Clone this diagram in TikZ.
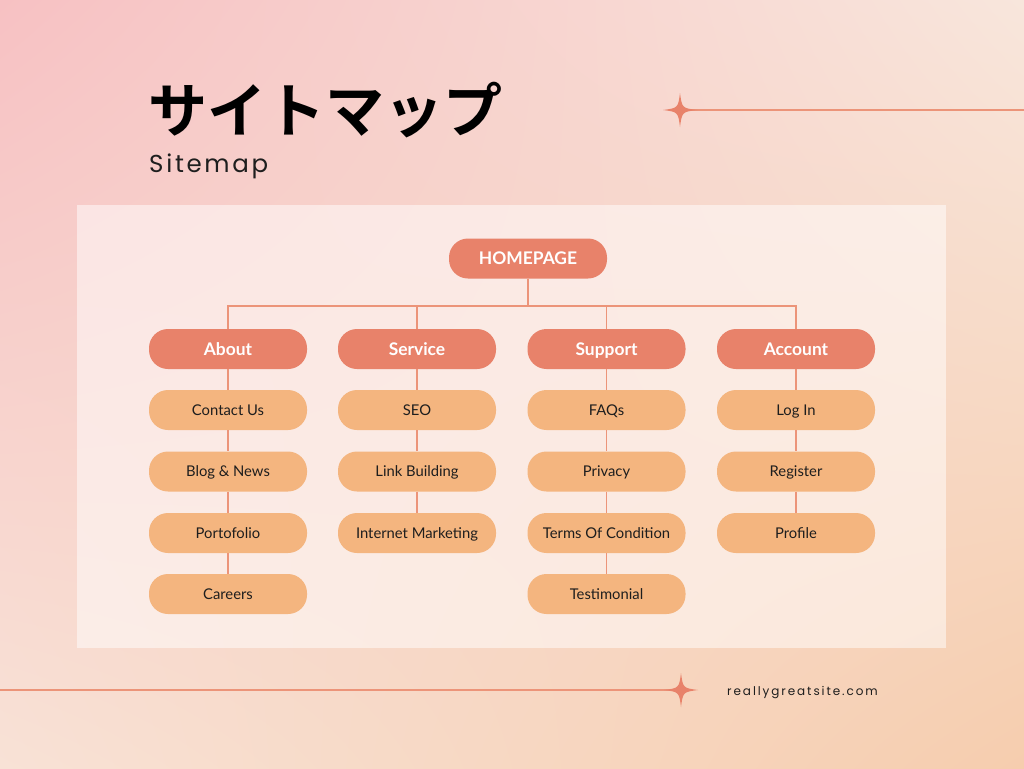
\documentclass[tikz,border=0pt]{standalone}
\usepackage{fontspec}
\usetikzlibrary{shadings}
\setmainfont{Lato}
\newfontfamily\cjk{Noto Sans CJK JP Bold}
\newfontfamily\spacedA[LetterSpace=11]{Poppins}
\newfontfamily\spacedB[LetterSpace=16]{Poppins}
\definecolor{bgTL}{HTML}{F7C1C3}
\definecolor{bgTR}{HTML}{F8E6DC}
\definecolor{bgBL}{HTML}{F8E2D6}
\definecolor{bgBR}{HTML}{F6CDAE}
\definecolor{hdr}{HTML}{E8826A}
\definecolor{kid}{HTML}{F4B57F}
\definecolor{conn}{HTML}{EC9479}
\definecolor{ink}{HTML}{1E1E1E}
\tikzset{
  pill/.style={rounded corners=19pt, minimum width=158pt, minimum height=40pt, inner sep=0pt},
  hdrbox/.style={pill, fill=hdr, text=white, font=\bfseries\fontsize{17.4}{19}\selectfont, text height=13pt, text depth=0.5pt},
  kidbox/.style={pill, fill=kid, text=ink, font=\fontsize{14.8}{16}\selectfont, text height=11pt, text depth=0.4pt},
  link/.style={draw=conn, line width=1.2pt},
  sparkle/.style={fill=hdr}
}
\begin{document}
\begin{tikzpicture}[x=1pt,y=-1pt]
\useasboundingbox (0,0) rectangle (1024,768);
\shade[upper left=bgTL, upper right=bgTR, lower left=bgBL, lower right=bgBR] (0,0) rectangle (1024,768);
\fill[white, opacity=0.5] (77,205) rectangle (946,648);

% title
\node[anchor=west, inner sep=0pt, font=\cjk\fontsize{59}{60}\selectfont, text=black] (title) at (148,110) {サイトマップ};
\node[anchor=base west, inner sep=0pt, font=\spacedA\fontsize{24.5}{26}\selectfont, text=ink] (sub) at (149,172) {Sitemap};

% decorative lines and sparkles
\coordinate (s1c) at (680,110);
\coordinate (s1e) at (1024,110);
\coordinate (s2c) at (681,690);
\coordinate (s2e) at (0,690);
\draw[link] ([xshift=10pt]s1c) -- (s1e);
\draw[link] ([xshift=-10pt]s2c) -- (s2e);
\fill[sparkle] (680,93) .. controls (682,108) .. (697,110) .. controls (682,112) .. (680,127) .. controls (678,112) .. (663,110) .. controls (678,108) .. cycle;
\fill[sparkle] (681,673) .. controls (683,688) .. (698,690) .. controls (683,692) .. (681,707) .. controls (679,692) .. (664,690) .. controls (679,688) .. cycle;

\node[anchor=base west, inner sep=0pt, font=\spacedB\fontsize{12}{14}\selectfont, text=ink] (site) at (727,695) {reallygreatsite.com};

% tree
\node[hdrbox] (home) at (528,258.5) {HOMEPAGE};
\node[hdrbox] (about) at (228,349) {About};
\node[hdrbox] (service) at (417,349) {Service};
\node[hdrbox] (support) at (606.5,349) {Support};
\node[hdrbox] (account) at (796,349) {Account};

\node[kidbox] (a1) at (228,410) {Contact Us};
\node[kidbox] (a2) at (228,471.5) {Blog \& News};
\node[kidbox] (a3) at (228,533) {Portofolio};
\node[kidbox] (a4) at (228,594) {Careers};

\node[kidbox] (v1) at (417,410) {SEO};
\node[kidbox] (v2) at (417,471.5) {Link Building};
\node[kidbox] (v3) at (417,533) {Internet Marketing};

\node[kidbox] (p1) at (606.5,410) {FAQs};
\node[kidbox] (p2) at (606.5,471.5) {Privacy};
\node[kidbox] (p3) at (606.5,533) {Terms Of Condition};
\node[kidbox] (p4) at (606.5,594) {Testimonial};

\node[kidbox] (c1) at (796,410) {Log In};
\node[kidbox] (c2) at (796,471.5) {Register};
\node[kidbox] (c3) at (796,533) {Profile};

\coordinate (bus) at (528,306);
\draw[link] (home.south) -- (bus);
\draw[link] (about.north) |- (bus);
\draw[link] (service.north) |- (bus);
\draw[link] (support.north) |- (bus);
\draw[link] (account.north) |- (bus);

\draw[link] (about.south) -- (a1.north);
\draw[link] (a1.south) -- (a2.north);
\draw[link] (a2.south) -- (a3.north);
\draw[link] (a3.south) -- (a4.north);

\draw[link] (service.south) -- (v1.north);
\draw[link] (v1.south) -- (v2.north);
\draw[link] (v2.south) -- (v3.north);

\draw[link] (support.south) -- (p1.north);
\draw[link] (p1.south) -- (p2.north);
\draw[link] (p2.south) -- (p3.north);
\draw[link] (p3.south) -- (p4.north);

\draw[link] (account.south) -- (c1.north);
\draw[link] (c1.south) -- (c2.north);
\draw[link] (c2.south) -- (c3.north);
\end{tikzpicture}
\end{document}
